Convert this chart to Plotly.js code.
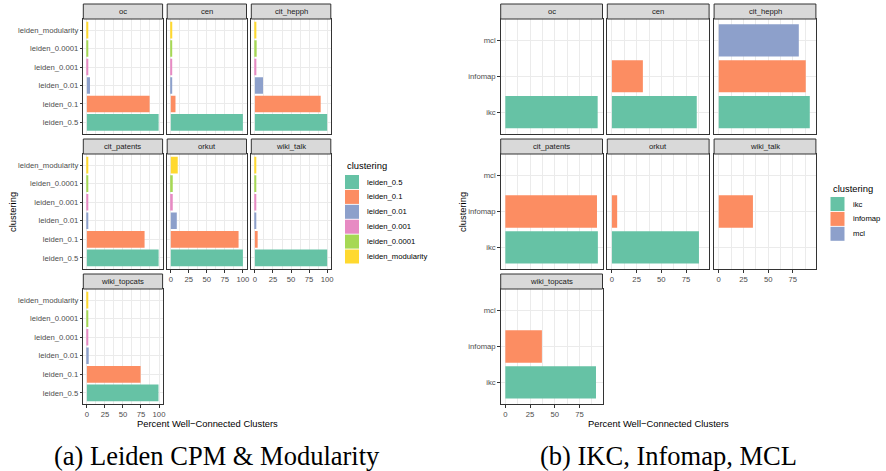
<!DOCTYPE html>
<html><head><meta charset="utf-8">
<script src="https://cdn.plot.ly/plotly-3.0.1.min.js"></script>
<style>html,body{margin:0;padding:0;background:#fff;} #chart{width:886px;height:471px;}</style>
</head><body><div id="chart"></div>
<script>
// ---------- data ----------
const networks = ['oc','cen','cit_hepph','cit_patents','orkut','wiki_talk','wiki_topcats'];

// (a) Leiden CPM & Modularity — percent well-connected clusters, per network
const leidenMethods = ['leiden_0.5','leiden_0.1','leiden_0.01','leiden_0.001','leiden_0.0001','leiden_modularity'];
const leiden_0_5        = [99.5, 100, 100, 99.5, 100, 100, 99.3];
const leiden_0_1        = [87, 6.5, 91, 80, 94, 3.8, 74.5];
const leiden_0_01       = [4.3, 1.3, 11.2, 1.5, 8.3, 1.5, 2.5];
const leiden_0_001      = [1.2, 1.5, 2.0, 1.0, 2.7, 1.5, 1.0];
const leiden_0_0001     = [1.0, 1.3, 2.4, 1.2, 2.7, 1.5, 1.0];
const leiden_modularity = [1.5, 2.0, 2.0, 1.0, 9.6, 1.5, 1.3];
const leidenSeries = [leiden_0_5, leiden_0_1, leiden_0_01, leiden_0_001, leiden_0_0001, leiden_modularity];

// (b) IKC, Infomap, MCL
const otherMethods = ['ikc','infomap','mcl'];
const ikc     = [93.4, 85.8, 92.1, 93.6, 88.0, null, 91.7];
const infomap = [null, 31.3, 88.0, 92.7, 5.3, 34.6, 37.0];
const mcl     = [null, null, 81.0, null, null, null, null];
const otherSeries = [ikc, infomap, mcl];

const leidenTickStep = 25;
const leidenColors = ['#66C2A5','#FC8D62','#8DA0CB','#E78AC3','#A6D854','#FFD92F'];
const otherColors  = ['#66C2A5','#FC8D62','#8DA0CB'];

// ---------- layout geometry (pixels) ----------
const W = 886, H = 471;
const fx = v => v / W;
const fy = v => 1 - v / H;
const rowsPlot  = [[19,133.5],[154,269],[289,404]];
const rowsStrip = [[4,19],[139,154],[274,289]];
const colsA = [[83.3,162.6],[167.2,246.5],[251.3,330.8]];
const colsB = [[500.7,602.5],[607.3,709.1],[714.1,815.9]];

const SANS = 'Liberation Sans, Arial, Helvetica, sans-serif';
const SERIF = 'Liberation Serif, Times New Roman, serif';
const SMALL = 7.7, MED = 9.4;

const data = [];
const layout = {
  width: W, height: H, autosize: false,
  margin: {l:0, r:0, t:0, b:0},
  paper_bgcolor: '#ffffff', plot_bgcolor: '#ffffff',
  showlegend: false,
  font: {family: SANS, size: SMALL, color: '#000'},
  shapes: [], annotations: []
};

let axisNum = 0;
function addSet(cols, methods, series, colors, xRange) {
  networks.forEach((net, i) => {
    axisNum++;
    const n = axisNum;
    const xk = n === 1 ? 'xaxis' : 'xaxis' + n;
    const yk = n === 1 ? 'yaxis' : 'yaxis' + n;
    const xr = n === 1 ? 'x' : 'x' + n;
    const yr = n === 1 ? 'y' : 'y' + n;
    const row = Math.floor(i / 3), col = i % 3;
    const showY = col === 0;
    const showX = i + 3 >= networks.length;
    const c = cols[col], r = rowsPlot[row], s = rowsStrip[row];

    data.push({
      type: 'bar', orientation: 'h',
      x: series.map(arr => arr[i]),
      y: methods,
      marker: {color: colors, line: {width: 0}},
      width: 0.9,
      xaxis: xr, yaxis: yr,
      showlegend: false,
      hovertemplate: '%{y}: %{x}<extra>' + net + '</extra>'
    });

    layout[xk] = {
      domain: [fx(c[0]), fx(c[1])], anchor: yr,
      range: xRange, tickmode: 'linear', tick0: 0, dtick: leidenTickStep,
      showticklabels: showX, ticks: showX ? 'outside' : '', ticklen: 2.5, tickwidth: 0.8, tickcolor: '#333333',
      tickfont: {family: SANS, size: SMALL, color: '#4D4D4D'},
      showgrid: true, gridcolor: '#EBEBEB', gridwidth: 0.9,
      minor: {tick0: 0, dtick: leidenTickStep / 2, showgrid: true, gridcolor: '#EBEBEB', gridwidth: 0.45, ticks: ''},
      zeroline: false, showline: true, mirror: true, linecolor: '#333333', linewidth: 1,
      fixedrange: true
    };
    layout[yk] = {
      domain: [fy(r[1]), fy(r[0])], anchor: xr,
      type: 'category', categoryorder: 'array', categoryarray: methods,
      range: [-0.6, methods.length - 0.4],
      showticklabels: showY, ticks: showY ? 'outside' : '', ticklen: 2.5, tickwidth: 0.8, tickcolor: '#333333',
      tickfont: {family: SANS, size: SMALL, color: '#4D4D4D'},
      showgrid: true, gridcolor: '#EBEBEB', gridwidth: 0.9,
      zeroline: false, showline: true, mirror: true, linecolor: '#333333', linewidth: 1,
      fixedrange: true
    };

    // strip
    layout.shapes.push({
      type: 'rect', xref: 'paper', yref: 'paper',
      x0: fx(c[0]), x1: fx(c[1]), y0: fy(s[1]), y1: fy(s[0]),
      fillcolor: '#D9D9D9', line: {color: '#333333', width: 1}, layer: 'above'
    });
    layout.annotations.push({
      xref: 'paper', yref: 'paper', x: fx((c[0] + c[1]) / 2), y: fy((s[0] + s[1]) / 2),
      text: net, showarrow: false, xanchor: 'center', yanchor: 'middle',
      font: {family: SANS, size: SMALL, color: '#1A1A1A'}
    });
  });
}

addSet(colsA, leidenMethods, leidenSeries, leidenColors, [-5, 105]);
addSet(colsB, otherMethods, otherSeries, otherColors, [-4.68, 98.28]);

function addText(x, y, text, size, opts) {
  layout.annotations.push(Object.assign({
    xref: 'paper', yref: 'paper', x: fx(x), y: fy(y), text: text, showarrow: false,
    xanchor: 'center', yanchor: 'middle', font: {family: SANS, size: size, color: '#000'}
  }, opts || {}));
}

// axis titles
addText(12, 212, 'clustering', MED, {textangle: -90});
addText(462, 212, 'clustering', MED, {textangle: -90});
addText((colsA[0][0] + colsA[2][1]) / 2, 423, 'Percent Well\u2212Connected Clusters', MED);
addText((colsB[0][0] + colsB[2][1]) / 2, 423, 'Percent Well\u2212Connected Clusters', MED);

// legends
function addLegend(x, titleY, firstY, methods, colors) {
  addText(x, titleY, 'clustering', MED, {xanchor: 'left'});
  methods.forEach((m, k) => {
    const cy = firstY + k * 14.9;
    layout.shapes.push({
      type: 'rect', xref: 'paper', yref: 'paper',
      x0: fx(x), x1: fx(x + 14), y0: fy(cy + 7), y1: fy(cy - 7),
      fillcolor: colors[k], line: {width: 0}
    });
    addText(x + 20, cy, m, SMALL, {xanchor: 'left'});
  });
}
addLegend(345, 166, 182, leidenMethods, leidenColors);
addLegend(830.5, 188, 204, otherMethods, otherColors);

// captions
addText(217, 456, '(a) Leiden CPM &amp; Modularity', 26.5, {font: {family: SERIF, size: 26.5, color: '#000'}});
addText(668.5, 456, '(b) IKC, Infomap, MCL', 26.5, {font: {family: SERIF, size: 26.5, color: '#000'}});

Plotly.newPlot('chart', data, layout, {displayModeBar: false, responsive: false});
</script>
</body></html>
